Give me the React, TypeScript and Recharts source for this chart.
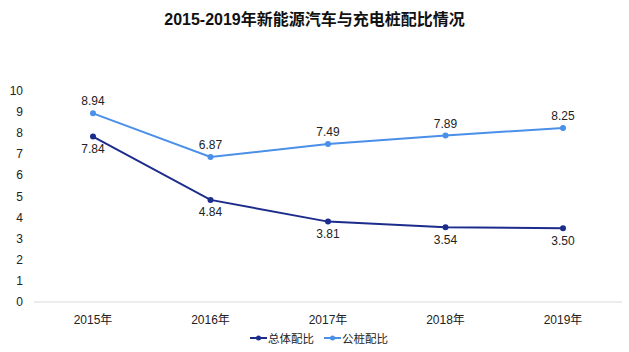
import React from 'react';
import { LineChart, Line, XAxis, YAxis, LabelList } from 'recharts';

const categories = ['2015年', '2016年', '2017年', '2018年', '2019年'];
const totalRatio = [7.84, 4.84, 3.81, 3.54, 3.5];
const pileRatio = [8.94, 6.87, 7.49, 7.89, 8.25];
const yTicks = [0, 1, 2, 3, 4, 5, 6, 7, 8, 9, 10];

const DARK = '#1c2c8c';
const LIGHT = '#4a90e8';
const FONT = 'Arial, "Liberation Sans", "Noto Sans CJK SC", sans-serif';

const data = categories.map((c, i) => ({ name: c, total: totalRatio[i], pile: pileRatio[i] }));

const YTick = (props: any) => {
  const { y, payload } = props;
  return (
    <text x={23} y={y} textAnchor="end" dominantBaseline="central" fontSize={12} fill="#222" fontFamily={FONT}>
      {payload.value}
    </text>
  );
};

const XTick = (props: any) => {
  const { x, payload } = props;
  return (
    <text x={x} y={320} textAnchor="middle" dominantBaseline="central" fontSize={12} fill="#222" fontFamily={FONT}>
      {payload.value}
    </text>
  );
};

const fmt = (v: any) => Number(v).toFixed(2);

const LegendItem = ({ color, label }: { color: string; label: string }) => (
  <div style={{ display: 'flex', alignItems: 'center', marginRight: 10 }}>
    <svg width={17} height={10} style={{ marginRight: 1 }}>
      <line x1={0} y1={5} x2={17} y2={5} stroke={color} strokeWidth={2} />
      <circle cx={8.5} cy={5} r={2.5} fill={color} />
    </svg>
    <span style={{ fontSize: 11.5, color: '#222', fontFamily: FONT }}>{label}</span>
  </div>
);

export default function App() {
  return (
    <div style={{ position: 'absolute', left: 0, top: 0, width: 629, height: 352, background: '#fff' }}>
      <div
        style={{
          position: 'absolute',
          left: 0,
          top: 9,
          width: 629,
          textAlign: 'center',
          fontSize: 16,
          fontWeight: 'bold',
          color: '#111',
          fontFamily: FONT,
          lineHeight: '22px',
        }}
      >
        2015-2019年新能源汽车与充电桩配比情况
      </div>
      <LineChart width={629} height={352} data={data} margin={{ top: 91, right: 7, bottom: 20, left: 0 }}>
        <XAxis
          dataKey="name"
          axisLine={{ stroke: '#d9d9d9' }}
          tickLine={false}
          tick={<XTick />}
          height={30}
          interval={0}
          padding={{ left: 59, right: 59 }}
        />
        <YAxis
          domain={[0, 10]}
          ticks={yTicks}
          axisLine={false}
          tickLine={false}
          tick={<YTick />}
          width={34}
          interval={0}
        />
        <Line
          dataKey="total"
          stroke={DARK}
          strokeWidth={2}
          dot={{ r: 3, fill: DARK, stroke: DARK, strokeWidth: 0 }}
          isAnimationActive={false}
        >
          <LabelList dataKey="total" position="bottom" offset={8} formatter={fmt} fontSize={12} fill="#222" fontFamily={FONT} />
        </Line>
        <Line
          dataKey="pile"
          stroke={LIGHT}
          strokeWidth={2}
          dot={{ r: 3, fill: LIGHT, stroke: LIGHT, strokeWidth: 0 }}
          isAnimationActive={false}
        >
          <LabelList dataKey="pile" position="top" offset={8} formatter={fmt} fontSize={12} fill="#222" fontFamily={FONT} />
        </Line>
      </LineChart>
      <div
        style={{
          position: 'absolute',
          left: 250,
          top: 331,
          display: 'flex',
          alignItems: 'center',
          height: 14,
        }}
      >
        <LegendItem color={DARK} label="总体配比" />
        <LegendItem color={LIGHT} label="公桩配比" />
      </div>
    </div>
  );
}
